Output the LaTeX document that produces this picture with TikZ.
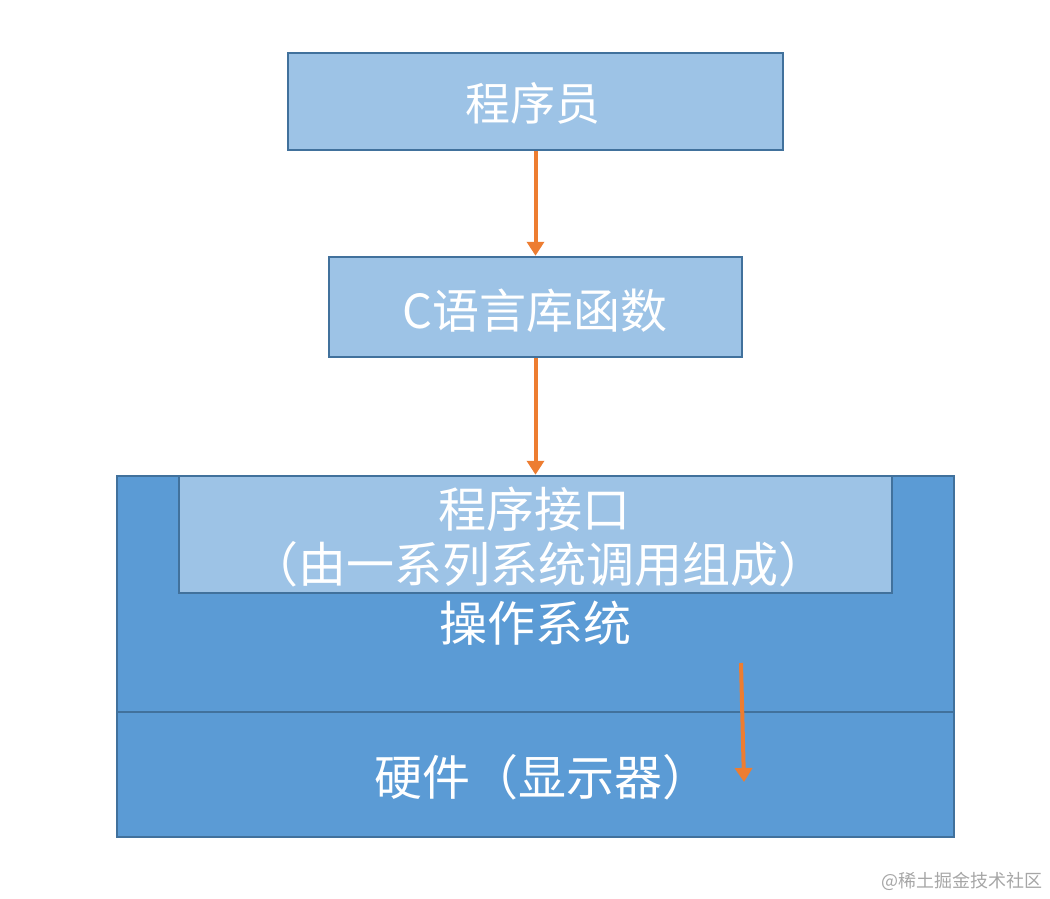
\documentclass[tikz,border=0pt]{standalone}
\usepackage{fontspec}
\newfontfamily\cjk{Noto Sans CJK SC}
\usetikzlibrary{arrows.meta}
\definecolor{lightblue}{HTML}{9DC3E6}
\definecolor{midblue}{HTML}{5B9BD5}
\definecolor{edgeblue}{HTML}{41719C}
\definecolor{arroworange}{HTML}{ED7D31}
\definecolor{wmgrey}{HTML}{A6A6A6}
\tikzset{
  lightbox/.style={draw=edgeblue, line width=2.5pt, fill=lightblue},
  darkbox/.style={draw=edgeblue, line width=2.5pt, fill=midblue},
  lbl/.style={text=white, font=\cjk\fontsize{47}{55}\selectfont, inner sep=0pt},
  lblb/.style={text=white, font=\cjk\fontsize{48}{56}\selectfont, inner sep=0pt},
  flow/.style={draw=arroworange, line width=4pt, -{Triangle[width=17pt,length=14pt]}},
}
\begin{document}
\begin{tikzpicture}[x=1pt,y=-1pt]
\useasboundingbox (0,0) rectangle (1050,898);
% outer OS and hardware boxes
\draw[darkbox] (117,476) rectangle (954,712);
\draw[darkbox] (117,712) rectangle (954,837);
% boxes
\node[lightbox, minimum width=495pt, minimum height=97pt, inner sep=0pt] (prog) at (535.5,101.5) {};
\node[lightbox, minimum width=413pt, minimum height=100pt, inner sep=0pt] (clib) at (535.5,307) {};
\node[lightbox, minimum width=713pt, minimum height=117pt, inner sep=0pt] (api) at (535.5,534.5) {};
% labels
\node[lbl, font=\cjk\fontsize{45}{52}\selectfont] (tprog) at (533,103) {程序员};
\node[lbl] (tclib) at (535,311) {C语言库函数};
\node[lblb] (tapi1) at (534,509) {程序接口};
\node[lblb] (tapi2) at (538,564) {（由一系列系统调用组成）};
\node[lblb] (tos) at (535,623) {操作系统};
\node[lblb] (thw) at (542,777) {硬件（显示器）};
% arrows
\draw[flow] (prog.south) -- (clib.north);
\draw[flow] (clib.south) -- (api.north);
\coordinate (a3s) at (741,663);
\coordinate (a3e) at (744,782);
\draw[flow] (a3s) -- (a3e);
% watermark
\node[text=wmgrey, font=\cjk\fontsize{18}{20}\selectfont, anchor=east, inner sep=0pt] (wm) at (1043,881) {@稀土掘金技术社区};
\end{tikzpicture}
\end{document}
